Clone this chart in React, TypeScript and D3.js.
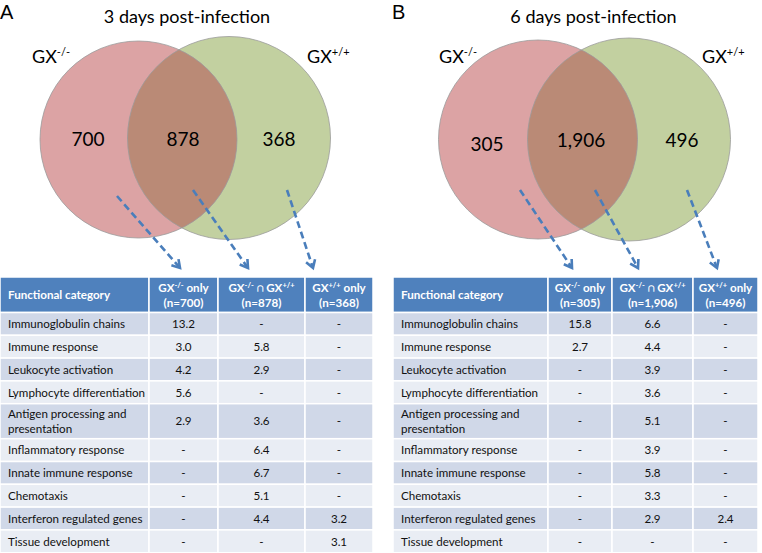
import React from "react";
import * as d3 from "d3";

const categories = [
  "Immunoglobulin chains",
  "Immune response",
  "Leukocyte activation",
  "Lymphocyte differentiation",
  "Antigen processing and presentation",
  "Inflammatory response",
  "Innate immune response",
  "Chemotaxis",
  "Interferon regulated genes",
  "Tissue development",
];

// values per panel: knockout only, intersection, wild type only (null = "-")
const day3KoOnly = [13.2, 3.0, 4.2, 5.6, 2.9, null, null, null, null, null];
const day3Both = [null, 5.8, 2.9, null, 3.6, 6.4, 6.7, 5.1, 4.4, null];
const day3WtOnly = [null, null, null, null, null, null, null, null, 3.2, 3.1];

const day6KoOnly = [15.8, 2.7, null, null, null, null, null, null, null, null];
const day6Both = [6.6, 4.4, 3.9, 3.6, 5.1, 3.9, 5.8, 3.3, 2.9, null];
const day6WtOnly = [null, null, null, null, null, null, null, null, 2.4, null];

const day3Counts = [700, 878, 368];
const day6Counts = [305, 1906, 496];

const panelLetters = ["A", "B"];
const panelTitles = ["3 days post-infection", "6 days post-infection"];

const FONT = "Lato, 'Open Sans', sans-serif";
const ARROW = "#4a7ebb";
const HEADER = "#4f81bd";
const ROW_DARK = "#d0d8e8";
const ROW_LIGHT = "#e9edf4";
const TFS = 11.6;

const fmt = d3.format(",");
const fmt1 = d3.format(".1f");

function wrap(label: string): string[] {
  if (label.length <= 27) return [label];
  const words = label.split(" ");
  const lines: string[] = [];
  let cur = "";
  for (const w of words) {
    const t = cur ? cur + " " + w : w;
    if (t.length > 24 && cur) {
      lines.push(cur);
      cur = w;
    } else cur = t;
  }
  if (cur) lines.push(cur);
  return lines;
}

type PanelProps = {
  idx: number;
  counts: number[];
  cols: (number | null)[][];
  layout: {
    letterX: number;
    titleX: number;
    circles: { cx: number; cy: number; r: number }[];
    labelLX: number;
    labelRX: number;
    numPos: { x: number; y: number }[];
    arrows: { x1: number; y1: number; x2: number; y2: number }[];
    colX: number[];
  };
};

function Arrow({ x1, y1, x2, y2 }: { x1: number; y1: number; x2: number; y2: number }) {
  const ang = Math.atan2(y2 - y1, x2 - x1);
  const L = 9;
  const spread = 0.55;
  const a1 = ang + Math.PI - spread;
  const a2 = ang + Math.PI + spread;
  const p1 = [x2 + L * Math.cos(a1), y2 + L * Math.sin(a1)];
  const p2 = [x2 + L * Math.cos(a2), y2 + L * Math.sin(a2)];
  const line = d3.line();
  return (
    <g stroke={ARROW} fill="none" strokeWidth={2.6}>
      <path d={line([[x1, y1], [x2 - 1.5 * Math.cos(ang), y2 - 1.5 * Math.sin(ang)]]) || ""} strokeDasharray="7,4" />
      <path d={line([p1 as [number, number], [x2, y2], p2 as [number, number]]) || ""} strokeLinejoin="miter" />
    </g>
  );
}

function Panel({ idx, counts, cols, layout }: PanelProps) {
  const [L, R] = layout.circles;
  const clipId = `clip-${idx}`;
  const headerTop = 277;
  const headerH = 35.5;
  const baseH = 22.8;
  const wrappedH = 35;
  const heights = categories.map((c) => (wrap(c).length > 1 ? wrappedH : baseH));
  const tops: number[] = [];
  let acc = headerTop + headerH;
  heights.forEach((h) => {
    tops.push(acc);
    acc += h;
  });
  const cx = layout.colX;
  const headers = [
    { sup: "-/-", pre: "GX", mid: " only", supB: null as string | null, n: counts[0] },
    { sup: "-/-", pre: "GX", mid: "  \u2229 GX", supB: "+/+", n: counts[1] },
    { sup: "+/+", pre: "GX", mid: " only", supB: null, n: counts[2] },
  ];
  return (
    <g>
      <text x={layout.letterX} y={19} fontFamily="'Liberation Sans', Arial, sans-serif" fontSize={20} fill="#000">
        {panelLetters[idx]}
      </text>
      <text x={layout.titleX} y={23} textAnchor="middle" fontFamily={FONT} fontSize={18} fill="#000">
        {panelTitles[idx]}
      </text>
      <defs>
        <clipPath id={clipId}>
          <circle cx={L.cx} cy={L.cy} r={L.r} />
        </clipPath>
      </defs>
      <circle cx={R.cx} cy={R.cy} r={R.r} fill="#c2d0a0" />
      <circle cx={L.cx} cy={L.cy} r={L.r} fill="#dca3a4" />
      <circle cx={R.cx} cy={R.cy} r={R.r} fill="#ba8a76" clipPath={`url(#${clipId})`} />
      <circle cx={L.cx} cy={L.cy} r={L.r} fill="none" stroke="#9a9a9a" strokeWidth={0.8} />
      <circle cx={R.cx} cy={R.cy} r={R.r} fill="none" stroke="#9a9a9a" strokeWidth={0.8} />
      <text x={layout.labelLX} y={63} fontFamily={FONT} fontSize={18} fill="#000">
        GX<tspan fontSize={11} dy={-7}>-/-</tspan>
      </text>
      <text x={layout.labelRX} y={63} fontFamily={FONT} fontSize={18} fill="#000">
        GX<tspan fontSize={11} dy={-7}>+/+</tspan>
      </text>
      {counts.map((c, i) => (
        <text key={i} x={layout.numPos[i].x} y={layout.numPos[i].y} textAnchor="middle" fontFamily={FONT} fontSize={19} fill="#000">
          {fmt(c)}
        </text>
      ))}
      {layout.arrows.map((a, i) => (
        <Arrow key={i} {...a} />
      ))}
      {[0, 1, 2, 3].map((j) => (
        <rect key={j} x={cx[j]} y={headerTop} width={cx[j + 1] - cx[j]} height={headerH} fill={HEADER} stroke="#fff" strokeWidth={1.5} />
      ))}
      <text x={cx[0] + 8} y={headerTop + headerH / 2 + 4.5} fontFamily={FONT} fontWeight="bold" fontSize={TFS} fill="#fff">
        Functional category
      </text>
      {headers.map((h, j) => {
        const mx = (cx[j + 1] + cx[j + 2]) / 2;
        return (
          <g key={j} fontFamily={FONT} fontWeight="bold" fontSize={TFS} fill="#fff" textAnchor="middle">
            <text x={mx} y={headerTop + 15}>
              {h.pre}
              <tspan fontSize={7.5} dy={-4}>{h.sup}</tspan>
              <tspan dy={4}>{h.mid}</tspan>
              {h.supB ? <tspan fontSize={7.5} dy={-4}>{h.supB}</tspan> : null}
            </text>
            <text x={mx} y={headerTop + 30}>{`(n=${fmt(h.n)})`}</text>
          </g>
        );
      })}
      {categories.map((c, i) => {
        const fill = i % 2 === 0 ? ROW_DARK : ROW_LIGHT;
        const lines = wrap(c);
        const mid = tops[i] + heights[i] / 2;
        return (
          <g key={c}>
            {[0, 1, 2, 3].map((j) => (
              <rect key={j} x={cx[j]} y={tops[i]} width={cx[j + 1] - cx[j]} height={heights[i]} fill={fill} stroke="#fff" strokeWidth={1.5} />
            ))}
            <text x={cx[0] + 8} y={mid + 4.2 - (lines.length - 1) * 7.5} fontFamily={FONT} fontSize={TFS} fill="#111">
              {lines.map((ln, k) => (
                <tspan key={k} x={cx[0] + 8} dy={k === 0 ? 0 : 15}>
                  {ln}
                </tspan>
              ))}
            </text>
            {cols.map((col, j) => {
              const v = col[i];
              return (
                <text key={j} x={(cx[j + 1] + cx[j + 2]) / 2} y={mid + 4.2} textAnchor="middle" fontFamily={FONT} fontSize={TFS} fill="#111">
                  {v == null ? "-" : fmt1(v)}
                </text>
              );
            })}
          </g>
        );
      })}
    </g>
  );
}

export default function App() {
  const layoutA = {
    letterX: 0,
    titleX: 187,
    circles: [
      { cx: 138.5, cy: 139.5, r: 98.5 },
      { cx: 229, cy: 138, r: 101.5 },
    ],
    labelLX: 32,
    labelRX: 307,
    numPos: [
      { x: 88, y: 146 },
      { x: 183, y: 146 },
      { x: 279, y: 146 },
    ],
    arrows: [
      { x1: 117, y1: 196, x2: 180, y2: 268 },
      { x1: 193, y1: 190, x2: 248, y2: 268 },
      { x1: 287, y1: 190, x2: 313, y2: 268 },
    ],
    colX: [0, 149, 218, 305, 373],
  };
  const layoutB = {
    letterX: 392,
    titleX: 593.5,
    circles: [
      { cx: 538, cy: 139.5, r: 99.5 },
      { cx: 629, cy: 139.5, r: 101.5 },
    ],
    labelLX: 439,
    labelRX: 702,
    numPos: [
      { x: 487, y: 150.5 },
      { x: 581, y: 146.5 },
      { x: 682, y: 147 },
    ],
    arrows: [
      { x1: 520, y1: 190, x2: 572, y2: 268 },
      { x1: 595, y1: 190, x2: 638, y2: 268 },
      { x1: 687, y1: 190, x2: 717, y2: 268 },
    ],
    colX: [393, 548, 612, 693, 758],
  };
  return (
    <svg width={762} height={553} style={{ position: "absolute", left: 0, top: 0, background: "#fff" }}>
      <rect width={762} height={553} fill="#fff" />
      <Panel idx={0} counts={day3Counts} cols={[day3KoOnly, day3Both, day3WtOnly]} layout={layoutA} />
      <Panel idx={1} counts={day6Counts} cols={[day6KoOnly, day6Both, day6WtOnly]} layout={layoutB} />
    </svg>
  );
}
